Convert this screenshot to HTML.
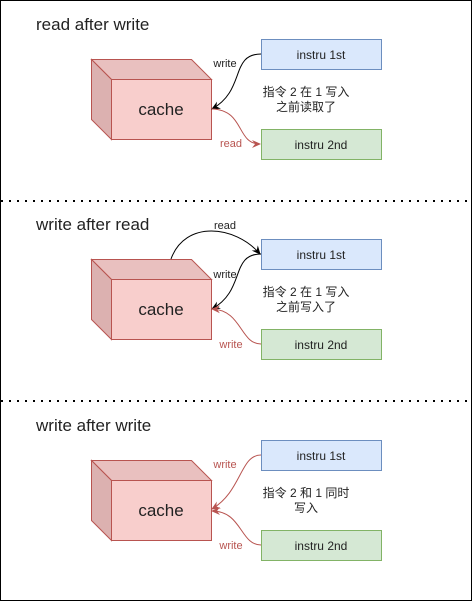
<!DOCTYPE html>
<html><head><meta charset="utf-8"><style>
body{margin:0;background:#fff}
svg text{font-family:"Liberation Sans","Noto Sans CJK SC",sans-serif}
</style></head><body>
<svg width="473" height="602" viewBox="0 0 473 602" xmlns="http://www.w3.org/2000/svg">
<defs>
<marker id="ab" markerWidth="10" markerHeight="10" refX="8" refY="5" orient="auto" markerUnits="userSpaceOnUse"><path d="M0,1 L9,5 L0,9 L3,5 Z" fill="#000"/></marker>
<marker id="ar" markerWidth="10" markerHeight="10" refX="8" refY="5" orient="auto" markerUnits="userSpaceOnUse"><path d="M0,1 L9,5 L0,9 L3,5 Z" fill="#b85450"/></marker>
<g id="cube">
<path d="M91.5,59.5 L191.5,59.5 L211.5,79.5 L111.5,79.5 Z" fill="#e9c0bf" stroke="#b85450"/>
<path d="M91.5,59.5 L111.5,79.5 L111.5,139.5 L91.5,119.5 Z" fill="#dcb1b0" stroke="#b85450"/>
<rect x="111.5" y="79.5" width="100" height="60" fill="#f8cecc" stroke="#b85450"/>
<text x="161" y="115" font-size="17" text-anchor="middle" fill="#222">cache</text>
</g>
<g id="boxes">
<rect x="261.5" y="39.5" width="120" height="30" fill="#dae8fc" stroke="#6c8ebf"/>
<text x="321" y="59" font-size="12" text-anchor="middle" fill="#222">instru 1st</text>
<rect x="261.5" y="129.5" width="120" height="30" fill="#d5e8d4" stroke="#82b366"/>
<text x="321" y="149" font-size="12" text-anchor="middle" fill="#222">instru 2nd</text>
</g>
</defs>
<rect x="0.5" y="0.5" width="471" height="600" fill="#fff" stroke="#000"/>
<line x1="1" y1="201" x2="471" y2="201" stroke="#000" stroke-width="2" stroke-dasharray="2 6"/>
<line x1="1" y1="401" x2="471" y2="401" stroke="#000" stroke-width="2" stroke-dasharray="2 6"/>

<text x="36" y="30" font-size="17" fill="#222">read after write</text>
<use href="#cube"/><use href="#boxes"/>
<path d="M261,54 C230,54 246,90 212,109" fill="none" stroke="#000" marker-end="url(#ab)"/>
<path d="M212,109 C245,110 236,144 260,144" fill="none" stroke="#b85450" marker-end="url(#ar)"/>
<text x="225" y="67" font-size="11" text-anchor="middle" fill="#222">write</text>
<text x="231" y="147" font-size="11" text-anchor="middle" fill="#b85450">read</text>
<text x="306" y="96" font-size="12" text-anchor="middle" fill="#222">指令 2 在 1 写入</text>
<text x="306" y="111" font-size="12" text-anchor="middle" fill="#222">之前读取了</text>

<g transform="translate(0,200)">
<text x="36" y="30" font-size="17" fill="#222">write after read</text>
<use href="#cube"/><use href="#boxes"/>
<path d="M171,59 C185,20 235,25 260,54" fill="none" stroke="#000" marker-end="url(#ab)"/>
<path d="M261,54 C230,54 246,90 212,109" fill="none" stroke="#000" marker-end="url(#ab)"/>
<path d="M261,144 C240,144 242,110 212,109" fill="none" stroke="#b85450" marker-end="url(#ar)"/>
<text x="225" y="29" font-size="11" text-anchor="middle" fill="#222">read</text>
<text x="225" y="78" font-size="11" text-anchor="middle" fill="#222">write</text>
<text x="231" y="148" font-size="11" text-anchor="middle" fill="#b85450">write</text>
<text x="306" y="96" font-size="12" text-anchor="middle" fill="#222">指令 2 在 1 写入</text>
<text x="306" y="111" font-size="12" text-anchor="middle" fill="#222">之前写入了</text>
</g>

<g transform="translate(0,401)">
<text x="36" y="30" font-size="17" fill="#222">write after write</text>
<use href="#cube"/><use href="#boxes"/>
<path d="M261,54 C240,54 242,90 212,108" fill="none" stroke="#b85450" marker-end="url(#ar)"/>
<path d="M261,144 C240,144 242,110 212,110" fill="none" stroke="#b85450" marker-end="url(#ar)"/>
<text x="225" y="67" font-size="11" text-anchor="middle" fill="#b85450">write</text>
<text x="231" y="148" font-size="11" text-anchor="middle" fill="#b85450">write</text>
<text x="306" y="96" font-size="12" text-anchor="middle" fill="#222">指令 2 和 1 同时</text>
<text x="306" y="111" font-size="12" text-anchor="middle" fill="#222">写入</text>
</g>
</svg>
</body></html>
